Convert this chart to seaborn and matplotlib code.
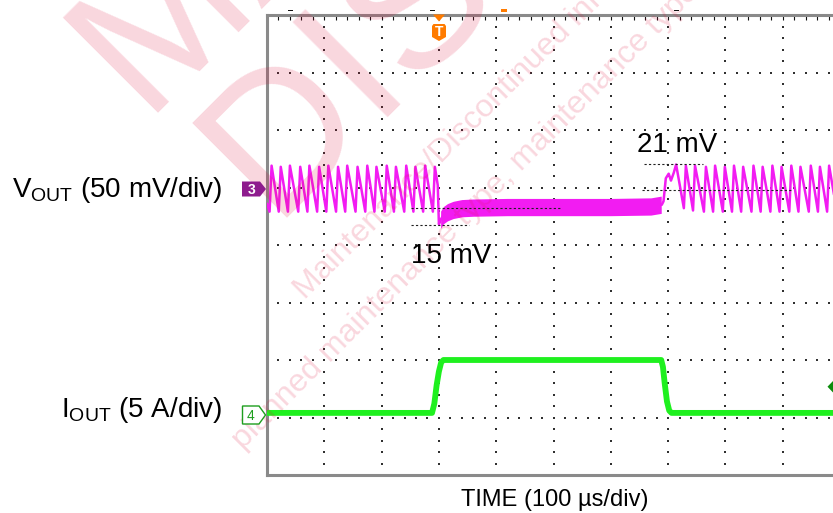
import numpy as np
import pandas as pd
import matplotlib
matplotlib.use("Agg")
import matplotlib.pyplot as plt
from matplotlib.patches import Polygon, Rectangle
import seaborn as sns

# ---------------- data (time in us, t = 0 at trigger) ----------------
TIME_US_PER_DIV = 100
VOUT_MV_PER_DIV = 50
IOUT_A_PER_DIV = 5
VOUT_OFFSET_DIV = 1      # channel 3 reference level (divisions)
IOUT_OFFSET_DIV = -3     # channel 4 reference level (divisions)
T_START, T_END = -300, 700

# Vout ripple peaks (light load) before the load step
pre_peak_t = [-292, -276, -260, -242, -226, -209, -193, -176, -160, -142,
              -125, -109, -91, -75, -57, -41, -24, -7]
pre_peak_mv = [19, 18, 19, 18, 19, 18, 19, 18, 19, 18,
               19, 18, 19, 18, 19, 18, 19, 18]
pre_trough_mv = [-21, -21, -21, -21, -21, -21, -21, -21, -21, -21,
                 -21, -21, -21, -21, -21, -21, -21, -21]
ripple_rise_us = 3.5

# Vout during heavy load (undershoot and recovery)
load_t = [-2, 0, 3, 8, 15, 25, 40, 60, 120, 200, 300, 370, 388]
load_mv = [2, -32, -28, -24, -21.5, -19.5, -18, -17.5, -17, -17, -17, -16.5, -15]
load_noise_mv = 7.5

# Vout at load release (overshoot)
rel_t = [389, 392, 396, 401, 405, 410]
rel_mv = [-15, -12, 8, 12, 6, 13]

# Vout ripple peaks (light load) after the load release
post_peak_t = [414, 431, 447, 466, 482, 499, 515, 531, 549, 565, 582, 598,
               615, 631, 649, 665, 681, 698]
post_peak_mv = [20, 19, 19, 18, 19, 18, 19, 18, 19, 18, 19, 18,
                19, 18, 19, 18, 19, 18]
post_trough_mv = [-13, -18, -20, -21, -21, -21, -21, -21, -21, -21, -21, -21,
                  -21, -21, -21, -21, -21, -21]

# Iout load step
iout_t = [-300, -12, -8, -4, 0, 4, 8, 388, 391, 394, 398, 402, 406, 700]
iout_a = [0.4, 0.4, 1.2, 2.8, 4.0, 4.8, 5.0, 5.0, 4.4, 3.0, 1.4, 0.6, 0.4, 0.4]

# annotation cursors (t in us, v in mV)
cur15_hi = ([-49, 211], -17.8)
cur15_lo = ([-49, 52], -32.6)
cur21_hi = ([358, 461], 20.2)
cur21_lo = ([354, 618], -2.2)

# ---------------- build traces ----------------
vt, vv = [T_START], [-14]
for p, pk, tr in zip(pre_peak_t, pre_peak_mv, pre_trough_mv):
    vt += [p - ripple_rise_us, p]
    vv += [tr, pk]
vt += load_t + rel_t
vv += load_mv + rel_mv
for i, (p, pk, tr) in enumerate(zip(post_peak_t, post_peak_mv, post_trough_mv)):
    if i > 0:
        vt.append(p - ripple_rise_us)
        vv.append(tr)
    vt.append(p)
    vv.append(pk)

vout = pd.DataFrame({"t": vt, "div": np.array(vv) / VOUT_MV_PER_DIV + VOUT_OFFSET_DIV})
iout = pd.DataFrame({"t": iout_t, "div": np.array(iout_a) / IOUT_A_PER_DIV + IOUT_OFFSET_DIV})

# ---------------- figure ----------------
sns.set_style("white")
plt.rcParams["font.family"] = ["Liberation Sans", "DejaVu Sans"]
plt.rcParams["mathtext.fontset"] = "custom"
plt.rcParams["mathtext.rm"] = "Liberation Sans"
plt.rcParams["mathtext.it"] = "Liberation Sans:italic"

W, H = 833, 513
fig = plt.figure(figsize=(W / 100, H / 100), dpi=100)
L, R, T, B = 267, 840, 15, 475
ax = fig.add_axes([L / W, (H - B) / H, (R - L) / W, (B - T) / H], zorder=1)
ax.set_xlim(T_START, T_END)
ax.set_ylim(-4, 4)

# graticule dots
gx = np.arange(T_START + TIME_US_PER_DIV, T_END, TIME_US_PER_DIV)
gy = np.arange(-3, 4, 1)
ys = np.arange(-4, 4.001, 0.2)
xs = np.arange(T_START, T_END + 0.1, TIME_US_PER_DIV / 5)
dx = np.concatenate([np.repeat(gx, len(ys)), np.tile(xs, len(gy))])
dy = np.concatenate([np.tile(ys, len(gx)), np.repeat(gy, len(xs))])
ax.scatter(dx, dy, s=1.3, marker="s", color="#303030", linewidths=0, zorder=1)

# traces
magenta = "#F21CF2"
green = "#1FF01F"
lm = np.array(load_mv[2:]) / VOUT_MV_PER_DIV + VOUT_OFFSET_DIV
ax.fill_between(load_t[2:], lm - load_noise_mv / VOUT_MV_PER_DIV, lm + load_noise_mv / VOUT_MV_PER_DIV,
                color=magenta, linewidth=0, zorder=2)
sns.lineplot(data=vout, x="t", y="div", sort=False, estimator=None, ax=ax,
             color=magenta, linewidth=1.8, zorder=3)
sns.lineplot(data=iout, x="t", y="div", sort=False, estimator=None, ax=ax,
             color=green, linewidth=4.2, zorder=3)

# cursors
for (xr, yv) in [cur15_hi, cur15_lo, cur21_hi, cur21_lo]:
    yd = yv / VOUT_MV_PER_DIV + VOUT_OFFSET_DIV
    ax.plot(xr, [yd, yd], color="#202020", linewidth=0.8, linestyle=(0, (2, 2)), zorder=4)

ax.set_xlabel("")
ax.set_ylabel("")
ax.set_xticks(np.arange(T_START, T_END + 1, TIME_US_PER_DIV / 5))
ax.set_yticks(np.arange(-4, 4.01, 0.2))
ax.tick_params(axis="both", which="both", direction="in", length=3.5, width=0.8,
               color="#111111", top=True, right=True, labelbottom=False, labelleft=False)
for s in ax.spines.values():
    s.set_color("#8a8a8a")
    s.set_linewidth(2.2)

# ---------------- overlay in pixel coordinates ----------------
ov = fig.add_axes([0, 0, 1, 1], zorder=5)
ov.set_xlim(0, W)
ov.set_ylim(H, 0)
ov.axis("off")

ov.text(222, 197, r"V$_{\rm OUT}$ (50 mV/div)", fontsize=20, ha="right", va="baseline", color="black")
ov.text(222, 417, r"I$_{\rm OUT}$ (5 A/div)", fontsize=20, ha="right", va="baseline", color="black")
ov.text(555, 506, "TIME (100 µs/div)", fontsize=17, ha="center", va="baseline", color="black")
ov.text(637, 151.5, "21 mV", fontsize=20, ha="left", va="baseline", color="black")
ov.text(411, 263, "15 mV", fontsize=20, ha="left", va="baseline", color="black")

# channel markers
ov.add_patch(Polygon([(242, 181.5), (260, 181.5), (266, 189), (260, 196.5), (242, 196.5)],
                     closed=True, facecolor="#8E1C8E", edgecolor="none"))
ov.text(251.5, 189.5, "3", color="white", fontsize=10, fontweight="bold", ha="center", va="center")
ov.add_patch(Polygon([(242.5, 406), (259, 406), (265.5, 415), (259, 424), (242.5, 424)],
                     closed=True, facecolor="white", edgecolor="#1E9E1E", linewidth=1.0))
ov.text(251, 415.5, "4", color="#1E9E1E", fontsize=10, ha="center", va="center")

# trigger marker
orange = "#FF7B00"
ov.add_patch(Polygon([(433, 14.5), (445, 14.5), (439, 21.5)], closed=True, facecolor=orange, edgecolor="none"))
ov.add_patch(Polygon([(432, 26), (433.5, 24), (444.5, 24), (446, 26), (446, 37), (439, 41), (432, 37)],
                     closed=True, facecolor=orange, edgecolor="none"))
ov.text(439, 31.5, "T", color="white", fontsize=10, fontweight="bold", ha="center", va="center")
ov.add_patch(Rectangle((501, 9), 6.5, 3, facecolor=orange, edgecolor="none"))
for x0 in (288, 430, 674):
    ov.add_patch(Rectangle((x0, 9.5), 5, 1.6, facecolor="#111111", edgecolor="none"))

# level marker at right edge
ov.add_patch(Polygon([(827.5, 386.7), (833.5, 380.5), (833.5, 393)], closed=True,
                     facecolor="#0C8C0C", edgecolor="none"))

# watermark
wm = dict(color="#E0103C", alpha=0.17, rotation=45, rotation_mode="anchor",
          ha="left", va="baseline", zorder=0)
ov.text(143, 113, "MAINTENANCE", fontsize=140, **wm)
ov.text(272, 218, "DISCONTINUED", fontsize=140, **wm)
ov.text(305, 300, "Maintenance/Discontinued information", fontsize=23, **wm)
ov.text(243, 450, "planned maintenance type, maintenance type", fontsize=23, **wm)

fig.savefig("out.png", dpi=100)
